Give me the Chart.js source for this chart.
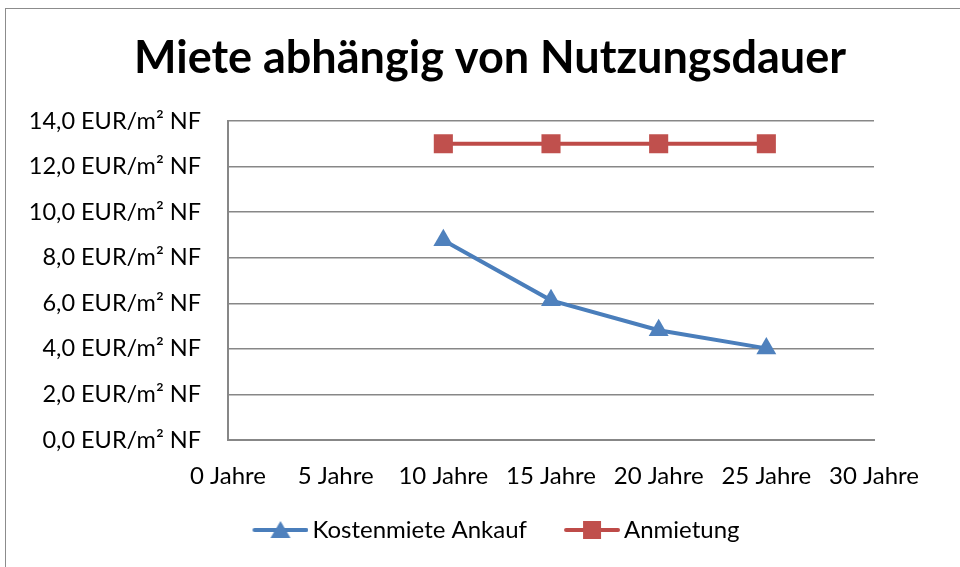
<!DOCTYPE html>
<html><head><meta charset="utf-8">
<script src="https://cdn.jsdelivr.net/npm/chart.js@4/dist/chart.umd.min.js"></script>
<style>html,body{margin:0;padding:0;background:#fff;overflow:hidden}#wrap{width:960px;height:567px;position:relative}canvas{display:block}</style>
</head><body><div id="wrap"><canvas id="c" width="960" height="567"></canvas></div>
<script>
const categories = ['0 Jahre','5 Jahre','10 Jahre','15 Jahre','20 Jahre','25 Jahre','30 Jahre'];
const kostenmieteAnkauf = [null, null, 8.77, 6.13, 4.82, 4.02, null];
const anmietung = [null, null, 13.0, 13.0, 13.0, 13.0, null];
const yTickValues = [0, 2, 4, 6, 8, 10, 12, 14];
const seriesNames = ['Kostenmiete Ankauf', 'Anmietung'];
const titleText = 'Miete abhängig von Nutzungsdauer';

const BLUE_LINE = '#4A7EBB', BLUE_MARK = '#4F81BD';
const RED_LINE = '#BE4B48', RED_MARK = '#C0504D';
const GRID = '#878787';
const FONT = 'Lato, "Open Sans", sans-serif';
const LEGEND_BOX = 60;

function legendIcon(lineColor, markColor, shape) {
  const w = LEGEND_BOX + 16, h = 24;
  const c = document.createElement('canvas');
  c.width = w; c.height = h;
  const g = c.getContext('2d');
  const x0 = w - 56, cx = x0 + 28, cy = h / 2;
  g.strokeStyle = lineColor; g.lineWidth = 4; g.lineCap = 'round';
  g.beginPath(); g.moveTo(x0 + 2, cy); g.lineTo(w - 2, cy); g.stroke();
  g.fillStyle = markColor;
  if (shape === 'triangle') {
    g.beginPath(); g.moveTo(cx, cy - 9); g.lineTo(cx + 10, cy + 8); g.lineTo(cx - 10, cy + 8); g.closePath(); g.fill();
  } else {
    g.fillRect(cx - 9, cy - 9, 18, 18);
  }
  return c;
}

const framePlugin = {
  id: 'frame',
  beforeDraw(chart) {
    const ctx = chart.ctx;
    ctx.save();
    ctx.fillStyle = '#fff';
    ctx.fillRect(0, 0, chart.width, chart.height);
    ctx.strokeStyle = '#8c8c8c';
    ctx.lineWidth = 1;
    ctx.strokeRect(5.5, 8.5, 1200, 1200);
    ctx.restore();
  }
};

new Chart(document.getElementById('c'), {
  type: 'line',
  data: {
    labels: categories,
    datasets: [
      {
        label: seriesNames[0],
        data: kostenmieteAnkauf,
        borderColor: BLUE_LINE,
        backgroundColor: BLUE_MARK,
        borderWidth: 4,
        pointStyle: 'triangle',
        pointRadius: 11.5,
        pointBackgroundColor: BLUE_MARK,
        pointBorderColor: BLUE_MARK,
        pointBorderWidth: 0,
        tension: 0,
        fill: false
      },
      {
        label: seriesNames[1],
        data: anmietung,
        borderColor: RED_LINE,
        backgroundColor: RED_MARK,
        borderWidth: 4,
        pointStyle: 'rect',
        pointRadius: 13.5,
        pointBackgroundColor: RED_MARK,
        pointBorderColor: RED_MARK,
        pointBorderWidth: 0,
        tension: 0,
        fill: false
      }
    ]
  },
  options: {
    responsive: false,
    devicePixelRatio: 1,
    animation: false,
    events: [],
    layout: { padding: { left: 0, right: -20, top: 0, bottom: 15 } },
    plugins: {
      tooltip: { enabled: false },
      title: {
        display: true,
        text: titleText,
        color: '#000',
        font: { family: FONT, size: 45, weight: 'bold', lineHeight: 1.2 },
        padding: { top: 31, bottom: 36 }
      },
      legend: {
        display: true,
        position: 'bottom',
        labels: {
          color: '#000',
          font: { family: FONT, size: 24 },
          usePointStyle: true,
          pointStyleWidth: LEGEND_BOX,
          padding: 25,
          generateLabels(chart) {
            return [
              { text: seriesNames[0], pointStyle: legendIcon(BLUE_LINE, BLUE_MARK, 'triangle'), fillStyle: BLUE_MARK, strokeStyle: BLUE_LINE, lineWidth: 0, datasetIndex: 0, hidden: false },
              { text: seriesNames[1], pointStyle: legendIcon(RED_LINE, RED_MARK, 'rect'), fillStyle: RED_MARK, strokeStyle: RED_LINE, lineWidth: 0, datasetIndex: 1, hidden: false }
            ];
          }
        }
      }
    },
    scales: {
      x: {
        type: 'category',
        offset: false,
        grid: { display: false, drawTicks: false },
        border: { display: true, color: GRID, width: 2 },
        ticks: {
          color: '#000',
          font: { family: FONT, size: 24 },
          padding: 22,
          autoSkip: false,
          maxRotation: 0
        },
        afterFit(s) { s.height = 53; }
      },
      y: {
        type: 'linear',
        position: 'left',
        min: 0,
        max: 14,
        afterBuildTicks(s) { s.ticks = yTickValues.map(v => ({ value: v })); },
        grid: { color: GRID, lineWidth: 1.5, drawTicks: false },
        border: { display: true, color: GRID, width: 2 },
        ticks: {
          color: '#000',
          font: { family: FONT, size: 23.5 },
          padding: 27,
          callback: v => v.toFixed(1).replace('.', ',') + ' EUR/m² NF'
        },
        afterFit(s) { s.width = 228; }
      },
      yRight: {
        type: 'linear',
        position: 'right',
        display: true,
        grid: { display: false, drawTicks: false },
        border: { display: false },
        ticks: { display: false },
        afterFit(s) { s.width = 106; }
      }
    }
  },
  plugins: [framePlugin]
});
</script>
</body></html>
